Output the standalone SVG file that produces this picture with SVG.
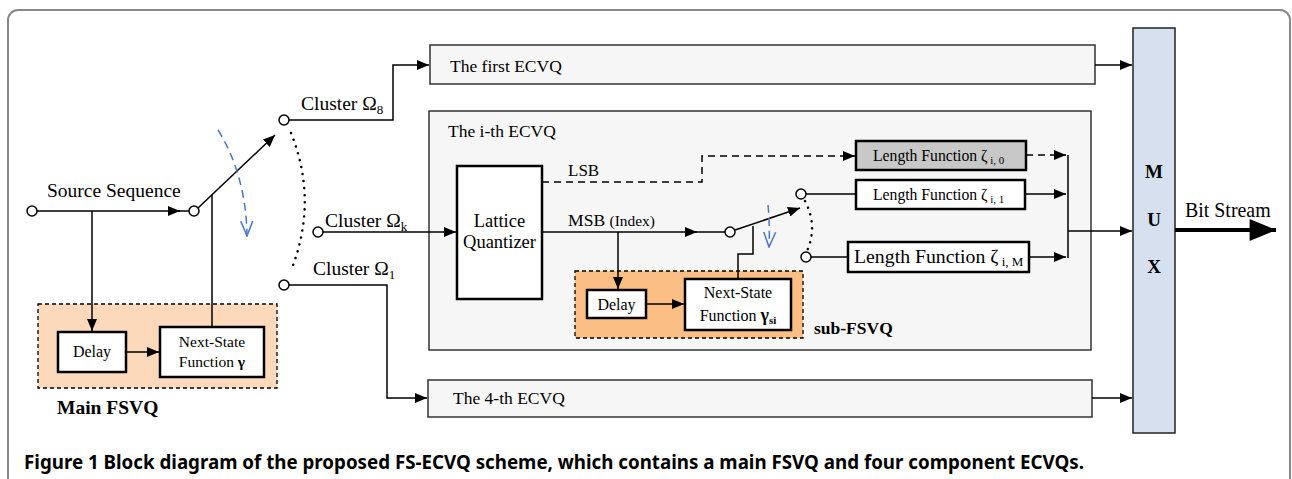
<svg xmlns="http://www.w3.org/2000/svg" width="1292" height="479" viewBox="0 0 1292 479">
<style>
.serif{font-family:"Liberation Serif","Times New Roman",serif;fill:#000}
.b{font-weight:bold}
.ln{stroke:#000;stroke-width:1.5;fill:none}
.dash{stroke:#000;stroke-width:1.5;fill:none;stroke-dasharray:7,5}
.blk{fill:#fff;stroke:#000;stroke-width:2.5}
.ecvq{fill:#f6f6f6;stroke:#333;stroke-width:1.5}
.term{fill:#fff;stroke:#000;stroke-width:1.5}
.blue{stroke:#4a78c8;stroke-width:1.5;fill:none;stroke-dasharray:8,5}
.dots{stroke:#000;stroke-width:2.5;fill:none;stroke-dasharray:0.1,7;stroke-linecap:round}
</style>
<defs>
<marker id="ar" viewBox="0 0 12 10" refX="12" refY="5" markerWidth="12" markerHeight="10" markerUnits="userSpaceOnUse" orient="auto">
<path d="M0,0 L12,5 L0,10 Z" fill="#000"/>
</marker>
<marker id="arBig" viewBox="0 0 24 20" refX="24" refY="10" markerWidth="28" markerHeight="22" markerUnits="userSpaceOnUse" orient="auto">
<path d="M0,0 L24,10 L0,20 Z" fill="#000"/>
</marker>
<marker id="arBlue" viewBox="0 0 16 14" refX="15" refY="7" markerWidth="16" markerHeight="14" markerUnits="userSpaceOnUse" orient="auto">
<path d="M0,1 L15,7 L0,13" fill="none" stroke="#4a78c8" stroke-width="1.5"/>
</marker>
</defs>
<rect width="1292" height="479" fill="#fff"/>
<rect x="8" y="10" width="1282" height="520" rx="10" fill="#fff" stroke="#888" stroke-width="2"/>

<g id="main-fsvq">
<rect x="38" y="304" width="239" height="84" fill="#fdd9bb" stroke="#000" stroke-width="1.3" stroke-dasharray="4,3"/>
<text class="serif b" x="57" y="414" font-size="19.5">Main FSVQ</text>
</g>
<g id="delay-main">
<rect class="blk" x="58" y="332" width="68" height="40"/>
<text class="serif" x="92" y="357" font-size="16" text-anchor="middle">Delay</text>
</g>
<g id="nextstate-main">
<rect class="blk" x="160" y="327" width="104" height="50"/>
<text class="serif" x="212" y="347" font-size="15.5" text-anchor="middle">Next-State</text>
<text class="serif" x="212" y="367" font-size="15.5" text-anchor="middle">Function <tspan class="b">γ</tspan></text>
</g>

<g id="first-ecvq">
<rect class="ecvq" x="430" y="45" width="665" height="39"/>
<text class="serif" x="450" y="72" font-size="17.5">The first ECVQ</text>
</g>
<g id="fourth-ecvq">
<rect class="ecvq" x="428" y="380" width="664" height="37"/>
<text class="serif" x="453" y="404" font-size="17.5">The 4-th ECVQ</text>
</g>
<g id="ith-ecvq">
<rect class="ecvq" x="429" y="111" width="662" height="239"/>
<text class="serif" x="448" y="137" font-size="17.5">The i-th ECVQ</text>
</g>
<g id="lattice">
<rect class="blk" x="457" y="166" width="85" height="133"/>
<text class="serif" x="499.5" y="227" font-size="18.5" text-anchor="middle">Lattice</text>
<text class="serif" x="499.5" y="248" font-size="18.5" text-anchor="middle">Quantizer</text>
</g>
<g id="sub-fsvq">
<rect x="575" y="271" width="228" height="67" fill="#fbbf85" stroke="#000" stroke-width="1.3" stroke-dasharray="4,3"/>
<text class="serif b" x="814" y="334" font-size="17.5">sub-FSVQ</text>
</g>
<g id="delay-sub">
<rect class="blk" x="587" y="290" width="59" height="28"/>
<text class="serif" x="616.5" y="310" font-size="16" text-anchor="middle">Delay</text>
</g>
<g id="nextstate-sub">
<rect class="blk" x="685" y="279" width="106" height="51"/>
<text class="serif" x="738" y="298" font-size="16" text-anchor="middle">Next-State</text>
<text class="serif" x="738" y="321" font-size="16" text-anchor="middle">Function <tspan class="b" font-size="18">γ</tspan><tspan class="b" font-size="11" dy="3">si</tspan></text>
</g>
<g id="len0">
<rect x="856" y="141" width="170" height="29" fill="#c8c8c8" stroke="#000" stroke-width="2.5"/>
<text class="serif" x="873" y="161" font-size="15.7">Length Function ζ<tspan font-size="11" dy="3"> i, 0</tspan></text>
</g>
<g id="len1">
<rect class="blk" x="856" y="180" width="169" height="29"/>
<text class="serif" x="873" y="200" font-size="15.7">Length Function ζ<tspan font-size="11" dy="3"> i, 1</tspan></text>
</g>
<g id="lenM">
<rect class="blk" x="848" y="242" width="181" height="30"/>
<text class="serif" x="854" y="263" font-size="19.8">Length Function ζ<tspan font-size="13" dy="3"> i, M</tspan></text>
</g>
<g id="mux">
<rect x="1133" y="28" width="42" height="405" fill="#d6e0ee" stroke="#222" stroke-width="1.5"/>
<text class="serif b" x="1154" y="178" font-size="19" text-anchor="middle">M</text>
<text class="serif b" x="1154" y="226" font-size="19" text-anchor="middle">U</text>
<text class="serif b" x="1154" y="273" font-size="19" text-anchor="middle">X</text>
</g>

<g id="labels">
<text class="serif" x="47" y="197" font-size="19.5">Source Sequence</text>
<text class="serif" x="301" y="110" font-size="19.5">Cluster Ω<tspan font-size="13" dy="4">8</tspan></text>
<text class="serif" x="325" y="227" font-size="19.5">Cluster Ω<tspan font-size="13" dy="4">k</tspan></text>
<text class="serif" x="313" y="275" font-size="19.5">Cluster Ω<tspan font-size="13" dy="4">1</tspan></text>
<text class="serif" x="568" y="176" font-size="17">LSB</text>
<text class="serif" x="568" y="226" font-size="17.6">MSB <tspan font-size="15.4">(Index)</tspan></text>
<text class="serif" x="1185" y="217" font-size="19.9">Bit Stream</text>
</g>

<g id="connectors">
<line class="ln" x1="37" y1="211" x2="180" y2="211" marker-end="url(#ar)"/>
<line class="ln" x1="178" y1="211" x2="189" y2="211"/>
<polyline class="ln" points="92,211 92,331" marker-end="url(#ar)"/>
<line class="ln" x1="126" y1="352" x2="159" y2="352" marker-end="url(#ar)"/>
<line class="ln" x1="212" y1="327" x2="212" y2="195"/>
<line class="ln" x1="198" y1="208" x2="275" y2="135" marker-end="url(#ar)"/>
<path class="blue" d="M218,130 Q246,175 247,236" marker-end="url(#arBlue)"/>
<path class="dots" d="M291,133 Q318,200 292,268"/>
<polyline class="ln" points="289,120 393,120 393,65 429,65" marker-end="url(#ar)"/>
<line class="ln" x1="323" y1="232" x2="456" y2="232" marker-end="url(#ar)"/>
<polyline class="ln" points="289,285 387,285 387,398 427,398" marker-end="url(#ar)"/>
<line class="ln" x1="1095" y1="65" x2="1132" y2="65" marker-end="url(#ar)"/>
<line class="ln" x1="1092" y1="398" x2="1132" y2="398" marker-end="url(#ar)"/>
<polyline class="dash" points="542,182 702,182 702,156 855,156" marker-end="url(#ar)"/>
<line class="ln" x1="542" y1="232" x2="697" y2="232" marker-end="url(#ar)"/>
<line class="ln" x1="695" y1="232" x2="725" y2="232"/>
<line class="ln" x1="618" y1="232" x2="618" y2="289" marker-end="url(#ar)"/>
<line class="ln" x1="646" y1="304" x2="684" y2="304" marker-end="url(#ar)"/>
<polyline class="ln" points="738,279 738,254 753,254 753,226"/>
<line class="ln" x1="735" y1="230" x2="800" y2="208" marker-end="url(#ar)"/>
<path class="blue" d="M768,205 Q770,225 769,247" stroke-dasharray="6,4" marker-end="url(#arBlue)"/>
<path class="dots" d="M805,201 Q818,226 807,251"/>
<line class="ln" x1="806" y1="194" x2="856" y2="194"/>
<line class="ln" x1="811" y1="257" x2="848" y2="257"/>
<line class="dash" x1="1026" y1="155" x2="1066" y2="155" stroke-dasharray="5,4" marker-end="url(#ar)"/>
<line class="ln" x1="1025" y1="194" x2="1066" y2="194" marker-end="url(#ar)"/>
<line class="ln" x1="1029" y1="257" x2="1066" y2="257" marker-end="url(#ar)"/>
<line class="ln" x1="1068" y1="155" x2="1068" y2="258"/>
<line class="ln" x1="1068" y1="231" x2="1132" y2="231" marker-end="url(#ar)"/>
<line x1="1175" y1="230" x2="1276" y2="230" stroke="#000" stroke-width="4" marker-end="url(#arBig)"/>
<circle class="term" cx="32" cy="211" r="5"/>
<circle class="term" cx="194" cy="211" r="5"/>
<circle class="term" cx="284" cy="120" r="5"/>
<circle class="term" cx="318" cy="232" r="5"/>
<circle class="term" cx="284" cy="285" r="5"/>
<circle class="term" cx="730" cy="232" r="5"/>
<circle class="term" cx="801" cy="194" r="5"/>
<circle class="term" cx="806" cy="257" r="5"/>
</g>

<text x="24" y="469" font-family="'Noto Sans','Open Sans',sans-serif" font-weight="bold" font-size="19" textLength="1060" lengthAdjust="spacingAndGlyphs">Figure 1 Block diagram of the proposed FS-ECVQ scheme, which contains a main FSVQ and four component ECVQs.</text>
</svg>
